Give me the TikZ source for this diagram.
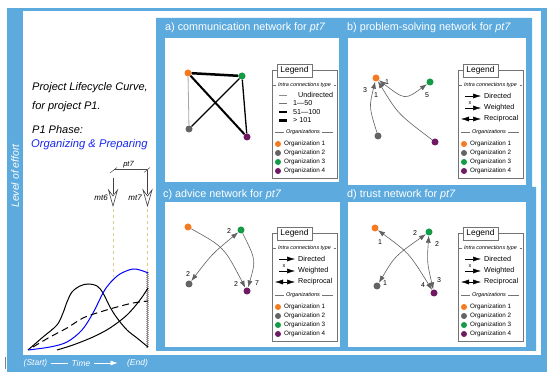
\documentclass[tikz,border=0pt]{standalone}
\usepackage{fontspec}
\setmainfont{Liberation Sans}
\usetikzlibrary{arrows.meta,decorations.pathmorphing}
\definecolor{pblue}{RGB}{93,170,222}
\definecolor{oorange}{RGB}{245,122,32}
\definecolor{ogray}{RGB}{100,100,100}
\definecolor{ogreen}{RGB}{20,155,70}
\definecolor{opurple}{RGB}{112,26,100}
\definecolor{khaki}{RGB}{215,205,140}
\definecolor{lcblue}{RGB}{25,40,235}
\newcommand{\fs}[1]{\fontsize{#1}{#1}\selectfont}
\tikzset{
  org/.style={circle, inner sep=0pt, minimum size=7pt},
  lorg/.style={circle, inner sep=0pt, minimum size=6pt},
  edgeline/.style={draw=black!62, line width=0.6pt},
  arrowend/.style={-{Latex[length=7pt,width=5pt]}},
  recip/.style={{Latex[length=7pt,width=5pt]}-{Latex[length=7pt,width=5pt]}},
  wlab/.style={font=\fs{7}, inner sep=0pt},
  ptitle/.style={text=white, anchor=west, font=\fs{10.8}, inner sep=0pt},
  lgline/.style={draw=black!55, line width=0.5pt},
  orgtext/.style={anchor=west, inner sep=0pt, font=\fs{6.3}},
  ctext/.style={anchor=west, inner sep=0pt, font=\fs{7.2}},
  lefttext/.style={anchor=west, inner sep=0pt, font=\itshape\fs{11}},
  bottomtext/.style={text=white, font=\itshape\fs{8.5}},
  shaftline/.style={draw=black!75, line width=0.6pt},
  chevron/.style={draw=black!75, line width=0.6pt, fill=white, line join=miter},
  lgsample/.style={-{Latex[length=8pt,width=5pt]}, black, line width=0.5pt},
  lgsample2/.style={{Latex[length=8pt,width=5pt]}-{Latex[length=8pt,width=5pt]}, black, line width=0.5pt}
}
\newcommand{\lgframe}[1]{%
  \draw[lgline, fill=white] (0,0) rectangle (65,108);
  \node[lgline, draw, fill=white, minimum width=35pt, minimum height=13pt, inner sep=0pt, font=\fs{8.4}] (#1ttl) at (22.5,0.5) {Legend};
  \node[font=\itshape\fs{5.4}, inner sep=0pt] (#1int) at (32.5,15) {Intra connections type};
  \draw[lgline] (0.8,15) -- (3.5,15) (61.5,15) -- (64.2,15);
  \node[font=\itshape\fs{5.5}, inner sep=0pt] (#1orgs) at (31,62) {Organizations};
  \draw[lgline] (3,62) -- (12,62) (50,62) -- (61,62);
  \node[lorg, fill=oorange] (#1c1) at (6,74) {};
  \node[orgtext] (#1l1) at (12,74) {Organization 1};
  \node[lorg, fill=ogray] (#1c2) at (6,83) {};
  \node[orgtext] (#1l2) at (12,83) {Organization 2};
  \node[lorg, fill=ogreen] (#1c3) at (6,92) {};
  \node[orgtext] (#1l3) at (12,92) {Organization 3};
  \node[lorg, fill=opurple] (#1c4) at (6,101) {};
  \node[orgtext] (#1l4) at (12,101) {Organization 4};
}
\newcommand{\weightlegend}[3]{%
  \begin{scope}[shift={(#2,#3)}]
    \lgframe{#1}
    \draw[black!45, line width=0.5pt] (7,25) -- (15,25);
    \node[ctext] (#1w1) at (26,25) {Undirected};
    \draw[black!55, line width=0.7pt] (7,33.5) -- (15,33.5);
    \node[ctext] (#1w2) at (21,33.5) {1—50};
    \draw[black, line width=1.8pt] (7,42) -- (15,42);
    \node[ctext] (#1w3) at (21,42) {51—100};
    \draw[black, line width=2.8pt] (7,50.5) -- (15,50.5);
    \node[ctext] (#1w4) at (21,50.5) {> 101};
  \end{scope}}
\newcommand{\arrowlegend}[3]{%
  \begin{scope}[shift={(#2,#3)}]
    \lgframe{#1}
    \draw[lgsample] (7,26) -- (23,26);
    \node[ctext] (#1d1) at (26,26) {Directed};
    \node[font=\fs{5.5}, inner sep=0pt] (#1x) at (12,33) {x};
    \draw[lgsample] (7,38) -- (23,38);
    \node[ctext] (#1d2) at (26,38) {Weighted};
    \draw[lgsample2] (3,49) -- (23,49);
    \node[ctext] (#1d3) at (26,49) {Reciprocal};
  \end{scope}}
\newcommand{\hollowdown}[3]{% x, top y, tip y
  \draw[shaftline] (#1,#2) -- (#1,#3-12);
  \draw[chevron] (#1-4.5,#3-16) -- (#1,#3) -- (#1+4.5,#3-16) -- (#1,#3-10) -- cycle;
}
\begin{document}
\begin{tikzpicture}[x=1pt, y=-1pt]
\useasboundingbox (0,0) rectangle (550,377);
% frame
\fill[pblue] (7,8) rectangle (547,372);
\fill[white] (23,11) rectangle (541,355);
\fill[pblue] (156,18) -- (532,18) -- (532,187) -- (536,187) -- (536,351) -- (156,351) -- cycle;
\fill[white] (165,38) rectangle (339,182);
\fill[white] (348,38) rectangle (526,185);
\fill[white] (165,202) rectangle (340,347);
\fill[white] (348,202) rectangle (526,347);
\draw[black!50, line width=0.5pt] (5,357) -- (5,369);

% left panel texts
\node[lefttext] (t1) at (32,88) {Project Lifecycle Curve,};
\node[lefttext] (t2) at (32,107) {for project P1.};
\node[lefttext] (t3) at (32,130) {P1 Phase:};
\node[lefttext, text=lcblue, font=\itshape\fs{11.2}] (t4) at (31,145) {Organizing \& Preparing};
\node[rotate=90, text=white, font=\itshape\fs{10.5}, inner sep=0pt] (lvl) at (15,176) {Level of effort};

% bottom axis
\node[bottomtext] (st) at (35.5,363) {(Start)};
\node[bottomtext] (tm) at (81,363) {Time};
\node[bottomtext] (en) at (137.5,363) {(End)};
\draw[white, line width=0.6pt] (st) -- (tm);
\draw[white, line width=0.6pt, -{Latex[length=7pt,width=5pt]}, shorten >=6pt] (tm) -- (en);

% pt7 bracket and arrows
\draw[black!70, line width=0.5pt] (114,169.5) -- (147,169.5);
\draw[black!70, line width=0.5pt] (110,173) -- (117,167.5);
\draw[black!70, line width=0.5pt] (144,172.5) -- (150,167.5);
\node[font=\itshape\fs{7.5}, inner sep=0pt] (pt) at (128.5,164.5) {pt7};
\hollowdown{113}{178}{206}
\hollowdown{147.5}{170}{206}
\node[font=\itshape\fs{8}, anchor=east, inner sep=0pt] (m6) at (108,198) {mt6};
\node[font=\itshape\fs{8}, anchor=east, inner sep=0pt] (m7) at (142,198) {mt7};
\coordinate (a6t) at (113,209);
\coordinate (a7t) at (147.5,209);
\coordinate (k6) at (113,277);
\coordinate (k7) at (147.5,272);
\draw[khaki, dashed, line width=0.7pt] (a6t) -- (k6);
\draw[khaki, dashed, line width=0.7pt] (a7t) -- (k7);
\draw[black!55, line width=0.5pt, decorate, decoration={zigzag, amplitude=0.8pt, segment length=2pt}] (k7) -- (147.5,348);

% lifecycle curves
\draw[black, line width=1pt] plot[smooth, tension=0.55] coordinates {(28,350) (43,337) (57,325) (63,313) (67,302) (72,292) (80,286) (88,284) (97,286) (103,293) (110,307) (117,318) (127,330) (137,338) (148,347)};
\draw[blue, line width=1pt] plot[smooth, tension=0.55] coordinates {(28,350) (50,347) (67,342) (82,330) (93,313) (103,293) (110,283) (120,274) (133,269) (143,271) (148,273)};
\draw[black, line width=1pt, dash pattern=on 7pt off 4pt] plot[smooth, tension=0.55] coordinates {(33,347) (50,337) (67,328) (83,318) (100,312) (117,307) (133,303) (148,301)};
\draw[black, line width=1pt] plot[smooth, tension=0.55] coordinates {(57,350) (73,345) (93,337) (110,328) (127,315) (140,300) (148,288)};

% titles
\node[ptitle] (ta) at (165,28) {a) communication network for \textit{pt7}};
\node[ptitle] (tb) at (347,28) {b) problem-solving network for \textit{pt7}};
\node[ptitle] (tc) at (163,194.5) {c) advice network for \textit{pt7}};
\node[ptitle] (td) at (347,194.5) {d) trust network for \textit{pt7}};

% panel a
\node[org, fill=oorange] (ao) at (188,73) {};
\node[org, fill=ogreen] (ag) at (242,76) {};
\node[org, fill=ogray] (ak) at (189,129) {};
\node[org, fill=opurple] (ap) at (247,137) {};
\draw[black!35, line width=0.8pt] (ao) -- (ak);
\draw[black, line width=1.3pt] (ag) -- (ak);
\draw[black, line width=1.3pt] (ag) -- (ap);
\draw[black, line width=2pt] (ao) -- (ap);
\draw[black, line width=2.5pt] (ao) -- (ag);
\weightlegend{la}{272}{70}

% panel b
\node[org, fill=oorange] (bo) at (376,78) {};
\node[org, fill=ogreen] (bg) at (430,82) {};
\node[org, fill=ogray] (bk) at (378,136) {};
\node[org, fill=opurple] (bp) at (435,142) {};
\draw[edgeline, recip] (bo) .. controls (405,100) .. (bg);
\draw[edgeline, arrowend] (bk) .. controls (369,107) .. (bo);
\draw[edgeline, arrowend] (bp) .. controls (398,114) .. (bo);
\node[wlab] (b1) at (387,82) {1};
\node[wlab] (b2) at (427,95) {5};
\node[wlab] (b3) at (365,90) {3};
\node[wlab] (b4) at (376,95) {1};
\arrowlegend{lb}{458}{70}

% panel c
\node[org, fill=oorange] (co) at (188,227) {};
\node[org, fill=ogreen] (cg) at (241,230) {};
\node[org, fill=ogray] (ck) at (189,284) {};
\node[org, fill=opurple] (cp) at (247,291) {};
\draw[edgeline, arrowend] (co) .. controls (224,247) .. (cp);
\draw[edgeline, arrowend] (cg) .. controls (256,260) .. (cp);
\draw[edgeline, recip] (ck) .. controls (212,254) .. (cg);
\node[wlab] (c1) at (229,231) {2};
\node[wlab] (c2) at (188,274) {2};
\node[wlab] (c3) at (236,284) {2};
\node[wlab] (c4) at (257,283) {7};
\arrowlegend{lc}{272}{233}

% panel d
\node[org, fill=oorange] (do) at (375,228) {};
\node[org, fill=ogreen] (dg) at (429,232) {};
\node[org, fill=ogray] (dk) at (377,286) {};
\node[org, fill=opurple] (dp) at (434,293) {};
\draw[edgeline, recip] (do) .. controls (409,253) .. (dp);
\draw[edgeline, recip] (dk) .. controls (395,256) .. (dg);
\draw[edgeline, recip] (dg) .. controls (427,262) .. (dp);
\node[wlab] (d1) at (380,242) {1};
\node[wlab] (d2) at (423,285) {4};
\node[wlab] (d3) at (415,233) {2};
\node[wlab] (d4) at (385,283) {1};
\node[wlab] (d5) at (437,244) {2};
\node[wlab] (d6) at (439,280) {3};
\arrowlegend{ld}{458}{233}
\end{tikzpicture}
\end{document}
